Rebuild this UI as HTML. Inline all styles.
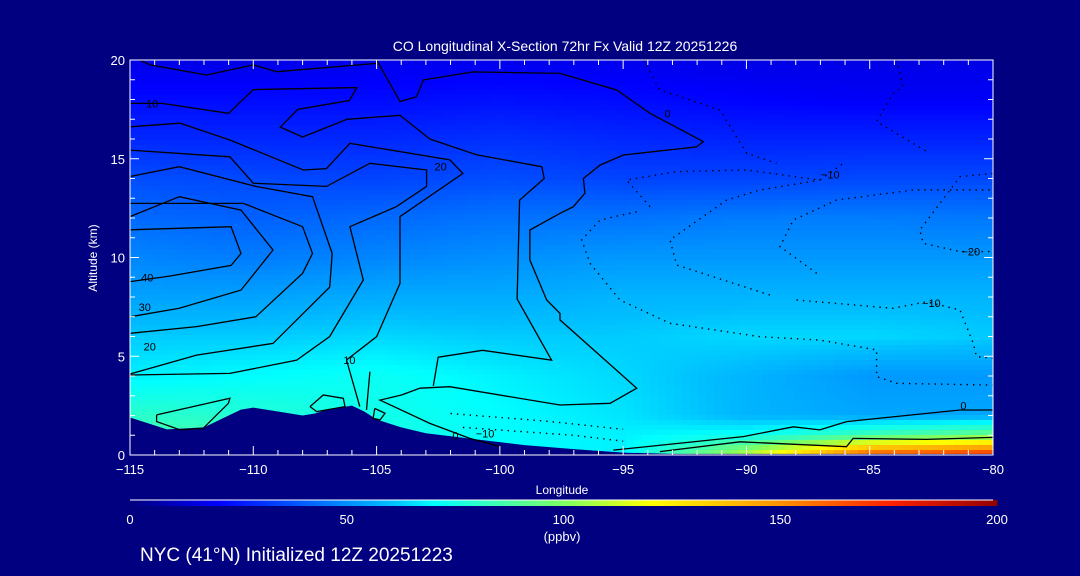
<!DOCTYPE html>
<html><head><meta charset="utf-8"><style>
html,body{margin:0;padding:0;background:#000080;}
svg{display:block;font-family:"Liberation Sans",sans-serif;}
</style></head><body>
<svg id="c" width="1080" height="576" viewBox="0 0 1080 576">
<rect width="1080" height="576" fill="#000080"/>
<g id="field"></g>
<g id="terrain"></g>
<g id="contours"></g>
<g id="axes"></g>
<text x="565" y="51" fill="#fff" font-size="14" text-anchor="middle">CO Longitudinal X-Section 72hr  Fx Valid 12Z 20251226</text>
<text x="97" y="258" fill="#fff" font-size="12" text-anchor="middle" transform="rotate(-90 97 258)">Altitude (km)</text>
<text x="562" y="494" fill="#fff" font-size="12" text-anchor="middle">Longitude</text>
<g id="cbar"></g>
<text x="562" y="541" fill="#fff" font-size="13" text-anchor="middle">(ppbv)</text>
<text x="140" y="561" fill="#fff" font-size="19">NYC (41°N) Initialized 12Z 20251223</text>
</svg>
<script>
const lons=[-115,-110,-105,-100,-95,-90,-85,-80];
const alts=[20,18,16,14,12,10,8,6,4,2,1,0];
const vals=[
[16,16,17,17,17,16,16,16],
[22,22,22,23,22,20,19,19],
[28,28,28,30,28,27,27,27],
[36,35,34,36,34,34,35,35],
[42,40,42,44,44,46,46,45],
[48,46,48,50,52,52,52,52],
[54,54,56,56,58,58,58,58],
[62,62,64,62,62,64,64,62],
[68,70,72,68,64,58,52,52],
[80,78,74,70,66,58,55,55],
[85,85,76,70,68,72,85,95],
[88,88,76,70,68,110,165,175]];
const xTicks=[-115,-110,-105,-100,-95,-90,-85,-80];
const yTicks=[0,5,10,15,20];
const cbTicks=[0,50,100,150,200];
const terrainLon=[-115,-113.5,-112,-111,-110.5,-110,-109,-108,-107.5,-107,-106,-105.5,-105,-104,-103,-101,-99,-97,-95,-93,-80];
const terrainAlt=[1.9,1.3,1.4,2.0,2.3,2.4,2.2,2.0,2.1,2.3,2.5,2.2,1.8,1.4,1.1,0.8,0.5,0.3,0.12,0.06,0.06];
const contourSolid=[
[[-115,11.4],[-110.9,11.56],[-110.5,10.2],[-110.9,9.6],[-113.4,9.06],[-115,8.78]],
[[-115,12.07],[-113,13.08],[-110.5,12.4],[-109.2,10.38],[-110.5,8.35],[-113,7.43],[-115,7.0]],
[[-115,12.74],[-110.4,12.74],[-108,11.56],[-107.6,10.21],[-108,9.2],[-109.9,7.0],[-112.3,6.5],[-115,6.16]],
[[-115,14.1],[-113,14.6],[-109.9,13.6],[-107.6,13.08],[-106.8,10.2],[-106.9,8.5],[-109.2,5.65],[-112.3,5.06],[-115,4.1]],
[[-115,15.44],[-110.95,15.1],[-110,13.76],[-107.03,13.6],[-105.27,14.77],[-102.97,14.43],[-102.97,13.6],[-104.2,12.57],[-106.08,11.56],[-105.54,8.86],[-106.9,6.0],[-108.24,4.8],[-110.95,4.13],[-115,4.05]],
[[-106.22,4.81],[-105,5.99],[-104.05,8.69],[-104.05,12.07],[-101.5,14.26],[-102.03,14.94],[-106.08,15.78],[-107.03,14.5],[-107.97,14.43],[-110.95,15.95],[-112.97,16.8],[-115,16.62]],
[[-115,17.8],[-113.7,17.8],[-111,17.3],[-110,18.5],[-105.8,18.6],[-106.1,17.95],[-108.2,17.5],[-108.9,16.6],[-108,16.1],[-106.2,17],[-104.05,17.2],[-102.84,16.0],[-100.95,15.2],[-98.3,14.6],[-98.2,14.0],[-99.2,12.9],[-99.3,7.9],[-97.9,4.8],[-100.7,5.3],[-102.5,4.95],[-102.7,3.5]],
[[-105,20],[-104.05,17.9],[-103.38,18.14],[-103.1,18.99],[-101.08,19.4],[-97.56,19.32],[-95.26,18.48],[-93.91,17.3],[-91.75,15.87],[-92.02,15.6],[-94.99,15.19],[-95.94,14.68],[-96.61,14.0],[-96.55,13.25],[-97.02,12.57],[-97.56,12.24],[-98.78,11.39],[-98.78,9.87],[-98.1,7.85],[-97.56,7.17],[-97.56,6.84],[-94.45,3.38],[-95.53,2.62],[-97.56,2.53],[-102.03,3.46],[-103.24,3.38],[-103.99,3.04],[-104.86,2.78],[-102.84,1.6],[-101.22,0.84],[-100,0.42]],
[[-114.6,20],[-114.19,19.75],[-111.89,19.24],[-110,19.75],[-109.05,19.41],[-105,19.83]],
[[-113.92,2.03],[-110.95,2.87],[-111.01,2.62],[-112.03,1.35],[-112.97,1.27],[-113.92,1.69],[-113.92,2.03]],
[[-107.7,2.45],[-107.16,3.04],[-106.35,2.87],[-106.28,2.45],[-107.43,2.2],[-107.7,2.45]],
[[-105.07,2.36],[-104.66,2.11],[-104.86,1.77],[-105.14,1.86],[-105.07,2.36]],
[[-106.22,4.81],[-105.68,2.45]],
[[-105.27,4.22],[-105.41,2.28]],
[[-95.4,0.25],[-90.13,0.93],[-88.1,1.43],[-87.02,1.27],[-85.94,1.69],[-81.34,2.28],[-80.01,2.28]],
[[-93.51,0.17],[-90.26,0.67],[-85.94,0.42],[-85.67,0.84],[-82.7,0.79],[-80.01,0.89]]];
const contourDot=[
[[-94.18,20],[-93.51,18.48],[-91.07,17.47],[-89.99,15.27],[-88.78,14.77]],
[[-93.91,12.57],[-94.86,13.92],[-92.83,14.35],[-89.99,14.43],[-87.02,13.92],[-86.07,14.77]],
[[-94.45,12.32],[-95.94,11.9],[-96.68,10.89],[-96.34,9.7],[-95.13,7.85],[-93.1,6.67],[-89.45,5.99],[-87.02,5.82],[-84.72,5.32],[-84.72,3.97],[-83.91,3.63],[-80.01,3.54]],
[[-89.05,8.1],[-92.83,9.62],[-93.1,10.89],[-90.8,12.91],[-89.45,13.42],[-87.02,13.92]],
[[-80.01,14.26],[-81.34,14.09],[-82.97,11.39],[-82.83,10.72],[-81.34,10.3],[-80.01,10.3]],
[[-87.15,9.2],[-88.64,10.55],[-88.1,11.9],[-86.34,12.91],[-83.24,13.42],[-80.01,13.42]],
[[-87.97,7.85],[-84.05,7.43],[-82.7,7.76],[-81.34,7.34],[-80.8,5.65],[-80.67,4.98],[-80.01,4.89]],
[[-83.91,20],[-83.64,18.65],[-84.05,18.31],[-84.72,16.88],[-82.56,15.27]],
[[-102,2.1],[-98,1.7],[-95,1.3]],
[[-101.5,1.4],[-97,1.0],[-95,0.7]]];
const labelText=['10','40','30','20','10','20','0','\u221210','\u221220','\u221210','0','0','\u221210'];
const labelLon=[-114.1,-114.3,-114.4,-114.2,-106.1,-102.4,-93.2,-86.6,-80.9,-82.5,-81.2,-101.8,-100.6];
const labelAlt=[17.8,9.0,7.5,5.5,4.8,14.6,17.3,14.2,10.3,7.7,2.5,1.0,1.1];
const X0=130,X1=993,Y0=455,Y1=60;
const sx=l=>X0+(l+115)/35*(X1-X0);
const sy=a=>Y0-a/20*(Y0-Y1);
const NS="http://www.w3.org/2000/svg";
const stops=[[0,[0,0,128]],[20,[0,0,255]],[40,[0,96,255]],[60,[0,190,255]],[70,[0,255,255]],[100,[128,255,96]],[120,[255,255,0]],[150,[255,144,0]],[175,[255,32,0]],[200,[144,0,0]]];
function col(v){v=Math.max(0,Math.min(200,v));for(let i=1;i<stops.length;i++){if(v<=stops[i][0]){const[a,ca]=stops[i-1],[b,cb]=stops[i];const t=(v-a)/(b-a);return`rgb(${ca.map((c,k)=>Math.round(c+(cb[k]-c)*t)).join(',')})`;}}return'rgb(144,0,0)';}
function interp(lon,alt){let i=0;while(i<lons.length-2&&lon>lons[i+1])i++;let tx=(lon-lons[i])/(lons[i+1]-lons[i]);let j=0;while(j<alts.length-2&&alt<alts[j+1])j++;let ty=(alts[j]-alt)/(alts[j]-alts[j+1]);const a=vals[j][i]+(vals[j][i+1]-vals[j][i])*tx;const b=vals[j+1][i]+(vals[j+1][i+1]-vals[j+1][i])*tx;return a+(b-a)*ty;}
const field=document.getElementById('field');
const cw=8,ch=5;
for(let y=Y1;y<Y0;y+=ch)for(let x=X0;x<X1;x+=cw){const lon=-115+(x+cw/2-X0)/(X1-X0)*35,alt=(Y0-y-ch/2)/(Y0-Y1)*20;const r=document.createElementNS(NS,'rect');r.setAttribute('x',x);r.setAttribute('y',y);r.setAttribute('width',Math.min(cw,X1-x)+0.5);r.setAttribute('height',ch+0.5);r.setAttribute('fill',col(interp(lon,alt)));


field.appendChild(r);}
let tp=`M${sx(-115)},${Y0} `+terrainLon.map((l,i)=>`L${sx(l)},${sy(terrainAlt[i])}`).join(' ')+` L${X1},${Y0} Z`;
const tpath=document.createElementNS(NS,'path');tpath.setAttribute('d',tp);tpath.setAttribute('fill','#000080');


document.getElementById('terrain').appendChild(tpath);
const cg=document.getElementById('contours');
function drawC(pts,dot){const p=document.createElementNS(NS,'path');p.setAttribute('d','M'+pts.map(q=>sx(q[0]).toFixed(1)+','+sy(q[1]).toFixed(1)).join(' L'));p.setAttribute('fill','none');p.setAttribute('stroke','#000');p.setAttribute('stroke-width',dot?1.4:1.3);if(dot)p.setAttribute('stroke-dasharray','1.4 5');


cg.appendChild(p);}
contourSolid.forEach(c=>drawC(c,false));contourDot.forEach(c=>drawC(c,true));
function el(tag,attrs,parent,txt){const e=document.createElementNS(NS,tag);for(const k in attrs)e.setAttribute(k,attrs[k]);if(txt!==undefined)e.textContent=txt;parent.appendChild(e);return e;}
labelText.forEach((t,i)=>{const e=el('text',{x:sx(labelLon[i]),y:sy(labelAlt[i])+4,fill:'#000','font-size':11,'text-anchor':'middle'},cg,t);

});
const ax=document.getElementById('axes');
el('rect',{x:X0,y:Y1,width:X1-X0,height:Y0-Y1,fill:'none',stroke:'#fff','stroke-width':1},ax);
for(let l=-115;l<=-80;l++){const big=xTicks.includes(l);el('line',{x1:sx(l),x2:sx(l),y1:Y0,y2:Y0-(big?9:5),stroke:'#fff'},ax);el('line',{x1:sx(l),x2:sx(l),y1:Y1,y2:Y1+(big?9:5),stroke:'#fff'},ax);}
xTicks.forEach(l=>{const t=el('text',{x:sx(l),y:Y0+19,fill:'#fff','font-size':13,'text-anchor':'middle'},ax,(l<0?'\u2212':'')+Math.abs(l));

});
for(let a=0;a<=20;a++){const big=yTicks.includes(a);el('line',{x1:X0,x2:X0+(big?9:5),y1:sy(a),y2:sy(a),stroke:'#fff'},ax);el('line',{x1:X1,x2:X1-(big?9:5),y1:sy(a),y2:sy(a),stroke:'#fff'},ax);}
yTicks.forEach(a=>{const t=el('text',{x:X0-5,y:sy(a)+5,fill:'#fff','font-size':13,'text-anchor':'end'},ax,String(a));

});
const cb=document.getElementById('cbar');
const CB0=130,CB1=997;
for(let x=CB0;x<CB1;x+=3){el('rect',{x:x,y:500,width:3.5,height:6,fill:col((x-CB0)/(CB1-CB0)*200)},cb);}
el('line',{x1:CB0,x2:CB1-4,y1:500,y2:500,stroke:'#fff'},cb);
cbTicks.forEach(v=>{const t=el('text',{x:CB0+v/200*(CB1-CB0),y:524,fill:'#fff','font-size':13,'text-anchor':'middle'},cb,String(v));

});
</script>
</body></html>
